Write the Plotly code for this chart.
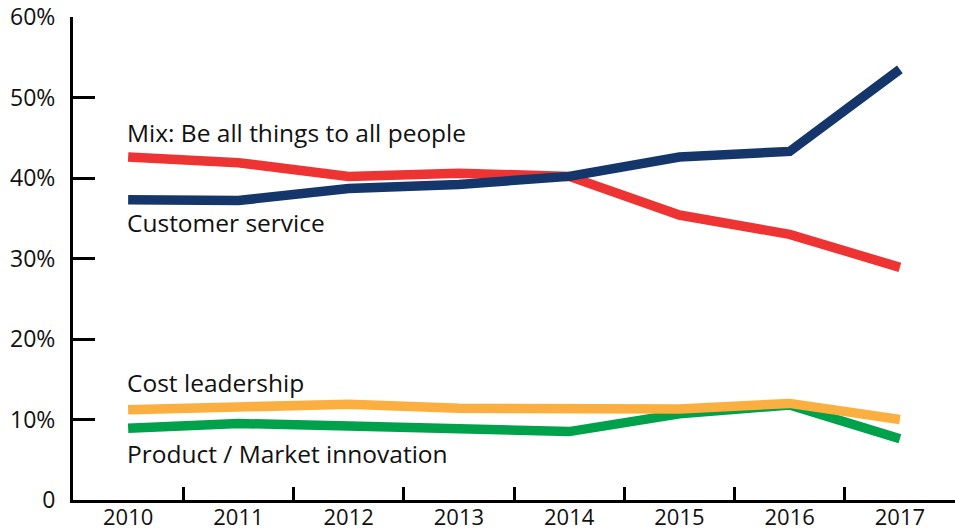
import plotly.graph_objects as go

years = [2010, 2011, 2012, 2013, 2014, 2015, 2016, 2017]
year_labels = ["2010", "2011", "2012", "2013", "2014", "2015", "2016", "2017"]

mix = [42.6, 41.9, 40.2, 40.6, 40.2, 35.4, 33.0, 28.9]
customer_service = [37.3, 37.2, 38.7, 39.2, 40.2, 42.6, 43.3, 53.5]
product_innovation = [8.9, 9.5, 9.2, 8.9, 8.5, 10.7, 11.8, 7.6]
cost_leadership = [11.2, 11.5, 11.9, 11.4, 11.3, 11.3, 12.0, 10.0]

y_ticks = [0, 10, 20, 30, 40, 50, 60]
y_tick_labels = ["0", "10%", "20%", "30%", "40%", "50%", "60%"]

series = [
    ("Mix: Be all things to all people", mix, "#EE3433", 45.6),
    ("Customer service", customer_service, "#14366B", 34.5),
    ("Product / Market innovation", product_innovation, "#00A14B", 5.8),
    ("Cost leadership", cost_leadership, "#FBAF41", 14.6),
]

FONT = "Open Sans"
TXT = "#111111"
fig = go.Figure()
for name, vals, color, _ in series:
    fig.add_trace(go.Scatter(
        x=years, y=vals, mode="lines", name=name,
        line=dict(color=color, width=9.5),
        hoverinfo="skip",
    ))

for name, vals, color, ly in series:
    fig.add_annotation(
        x=years[0], y=ly, xref="x", yref="y", text=name, showarrow=False,
        xanchor="left", yanchor="middle", xshift=-3,
        font=dict(family=FONT, size=24.5, color=TXT),
    )

fig.update_layout(
    width=955, height=532,
    margin=dict(l=73, r=0, t=17, b=32),
    plot_bgcolor="white", paper_bgcolor="white",
    showlegend=False,
    font=dict(family=FONT, size=23, color=TXT),
)
fig.update_xaxes(
    range=[2009.5, 2017.5], tickvals=years, ticktext=year_labels,
    showgrid=False, zeroline=False, showline=True, linecolor="black", linewidth=3,
    ticks="", tickfont=dict(family=FONT, size=22, color=TXT),
    ticklabelstandoff=-4,
    minor=dict(tickvals=[y + 0.5 for y in years[:-1]], ticks="inside",
               ticklen=13, tickwidth=3, tickcolor="black", showgrid=False),
    automargin=False, fixedrange=True,
)
fig.update_yaxes(
    range=[0, 60], tickvals=y_ticks, ticktext=y_tick_labels,
    showgrid=False, zeroline=False, showline=True, linecolor="black", linewidth=3,
    ticks="inside", ticklen=22, tickwidth=3, tickcolor="black",
    tickfont=dict(family=FONT, size=23, color=TXT),
    ticklabelstandoff=10,
    automargin=False, fixedrange=True,
)

fig.write_html("out.html", config={"displayModeBar": False})
